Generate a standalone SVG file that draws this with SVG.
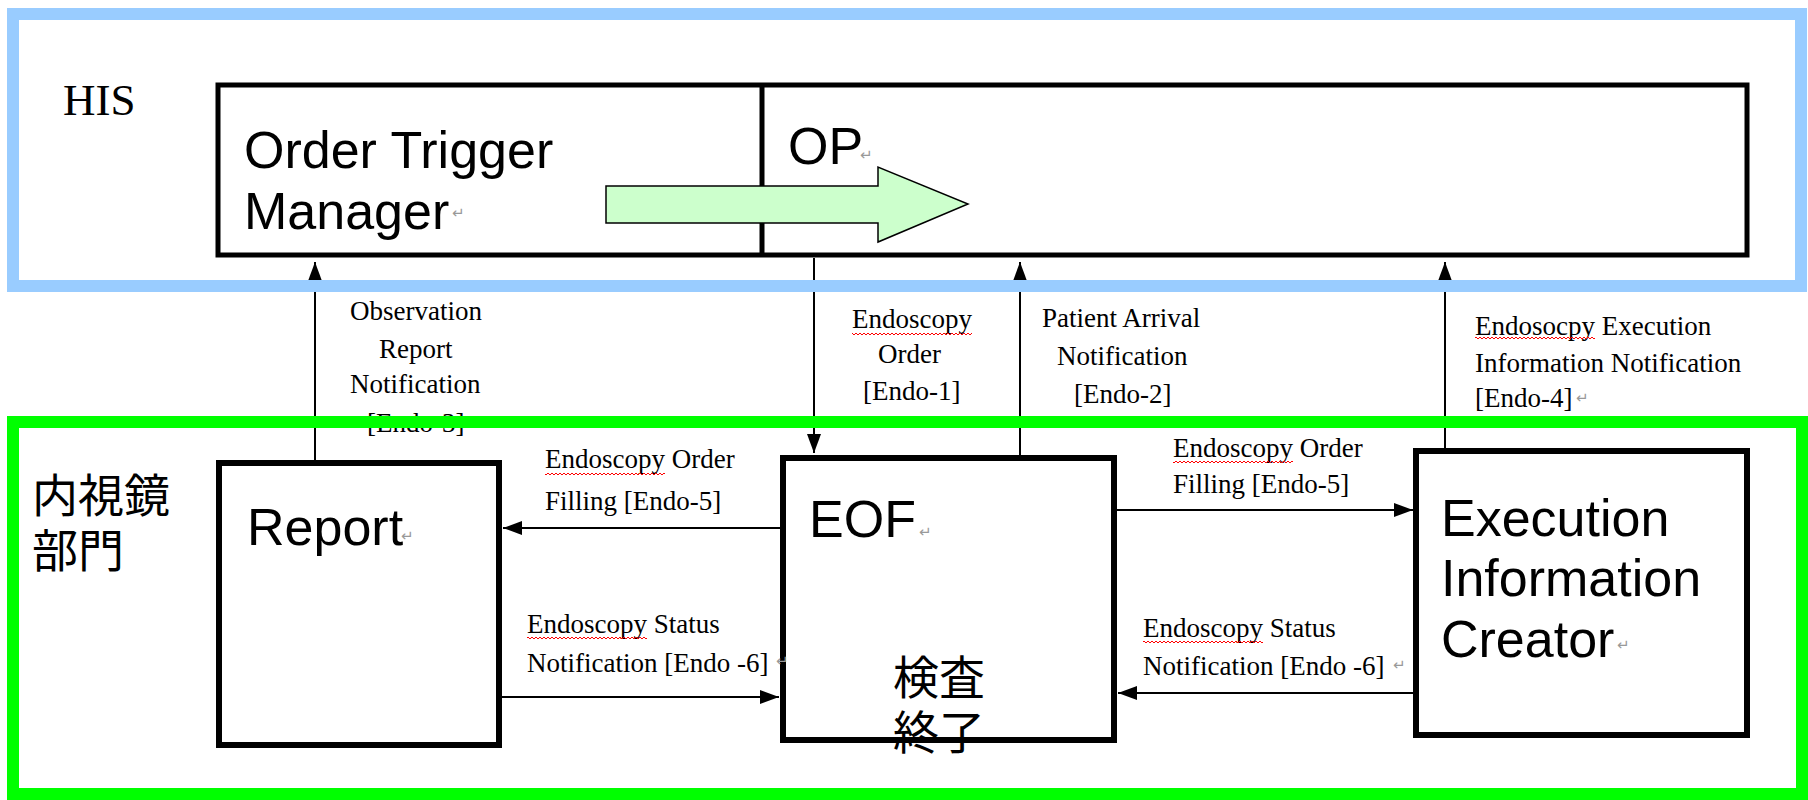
<svg xmlns="http://www.w3.org/2000/svg" width="1808" height="800" viewBox="0 0 1808 800">
<style>
.box{fill:#fff;stroke:#000;stroke-width:6}
.big{font-family:"Liberation Sans",Arial,sans-serif;font-size:52px;fill:#000}
.sm{font-family:"Liberation Serif","Times New Roman",serif;font-size:27px;fill:#000}
.cjk{font-family:"Noto Sans CJK JP","Noto Sans CJK SC",sans-serif;font-size:46px;fill:#000}
.pm{font-family:"DejaVu Sans",sans-serif;font-size:15px;fill:#999}
.con{stroke:#000;stroke-width:2;fill:none}
.frame{fill:none;stroke-width:12}
</style>
<defs>
<marker id="ah" markerUnits="userSpaceOnUse" markerWidth="20" markerHeight="16" refX="19" refY="7" orient="auto">
<path d="M0,0 L19,7 L0,14 z" fill="#000"/>
</marker>
<pattern id="sq" width="4" height="4" patternUnits="userSpaceOnUse">
<path d="M0,1 L2,3 L4,1" stroke="#ff0000" stroke-width="1" fill="none"/>
</pattern>
</defs>

<g id="his-label"><text x="63" y="115" style="font-family:'Liberation Serif',serif;font-size:45px">HIS</text></g>
<g id="dept-label">
<text class="cjk" x="32" y="512">内視鏡<tspan x="32" dy="55">部門</tspan></text>
</g>

<g id="his-box">
<rect class="box" x="218" y="85" width="1529" height="170" style="stroke-width:5"/>
<line x1="762" y1="85" x2="762" y2="255" stroke="#000" stroke-width="5"/>
</g>
<g id="order-trigger-manager">
<text class="big" x="244" y="168">Order Trigger</text>
<text class="big" x="244" y="229">Manager</text>
<text class="pm" x="452" y="218">↵</text>
</g>
<g id="op">
<text class="big" x="788" y="164">OP</text>
<text class="pm" x="860" y="160">↵</text>
</g>
<g id="flow-arrow">
<polygon points="606,186 878,186 878,167 968,204 878,242 878,223 606,223" fill="#ccffcc" stroke="#000" stroke-width="1.5"/>
</g>

<g id="report">
<rect class="box" x="219" y="463" width="280" height="282"/>
<text class="big" x="247" y="545">Report</text>
<text class="pm" x="401" y="541">↵</text>
</g>
<g id="eof">
<rect class="box" x="783" y="458" width="331" height="282"/>
<text class="big" x="809" y="537">EOF</text>
<text class="pm" x="919" y="537">↵</text>
<text class="cjk" x="893" y="694">検査<tspan x="893" dy="55">終了</tspan></text>
</g>
<g id="execution-information-creator">
<rect class="box" x="1416" y="451" width="331" height="284"/>
<text class="big" x="1441" y="536">Execution</text>
<text class="big" x="1441" y="596">Information</text>
<text class="big" x="1441" y="657">Creator</text>
<text class="pm" x="1617" y="650">↵</text>
</g>

<g id="connectors">
<line class="con" x1="315" y1="460" x2="315" y2="262" marker-end="url(#ah)"/>
<line class="con" x1="814" y1="258" x2="814" y2="453" marker-end="url(#ah)"/>
<line class="con" x1="1020" y1="455" x2="1020" y2="262" marker-end="url(#ah)"/>
<line class="con" x1="1445" y1="448" x2="1445" y2="262" marker-end="url(#ah)"/>
<line class="con" x1="780" y1="528" x2="503" y2="528" marker-end="url(#ah)"/>
<line class="con" x1="502" y1="697" x2="779" y2="697" marker-end="url(#ah)"/>
<line class="con" x1="1117" y1="510" x2="1413" y2="510" marker-end="url(#ah)"/>
<line class="con" x1="1413" y1="693" x2="1118" y2="693" marker-end="url(#ah)"/>
</g>

<g id="connector-labels">
<text class="sm" x="350" y="320">Observation</text>
<text class="sm" x="379" y="358">Report</text>
<text class="sm" x="350" y="393">Notification</text>
<text class="sm" x="367" y="432">[Endo-3]</text>

<text class="sm" x="852" y="328">Endoscopy</text>
<rect x="852" y="332" width="120" height="4" fill="url(#sq)"/>
<text class="sm" x="878" y="363">Order</text>
<text class="sm" x="863" y="400">[Endo-1]</text>

<text class="sm" x="1042" y="327">Patient Arrival</text>
<text class="sm" x="1057" y="365">Notification</text>
<text class="sm" x="1074" y="403">[Endo-2]</text>

<text class="sm" x="1475" y="335">Endosocpy Execution</text>
<rect x="1475" y="336" width="120" height="4" fill="url(#sq)"/>
<text class="sm" x="1475" y="372">Information Notification</text>
<text class="sm" x="1475" y="407">[Endo-4]</text>
<text class="pm" x="1576" y="403">↵</text>

<text class="sm" x="545" y="468">Endoscopy Order</text>
<rect x="545" y="472" width="120" height="4" fill="url(#sq)"/>
<text class="sm" x="545" y="510">Filling [Endo-5]</text>

<text class="sm" x="1173" y="457">Endoscopy Order</text>
<rect x="1173" y="460" width="120" height="4" fill="url(#sq)"/>
<text class="sm" x="1173" y="493">Filling [Endo-5]</text>

<text class="sm" x="527" y="633">Endoscopy Status</text>
<rect x="527" y="636" width="120" height="4" fill="url(#sq)"/>
<text class="sm" x="527" y="672">Notification [Endo -6]</text>
<text class="pm" x="776" y="666">↵</text>

<text class="sm" x="1143" y="637">Endoscopy Status</text>
<rect x="1143" y="640" width="120" height="4" fill="url(#sq)"/>
<text class="sm" x="1143" y="675">Notification [Endo -6]</text>
<text class="pm" x="1393" y="670">↵</text>
</g>

<g id="frames">
<rect class="frame" x="13" y="14" width="1788" height="272" stroke="#99ccff"/>
<rect class="frame" x="13" y="422" width="1789" height="372" stroke="#00ff00"/>
</g>
</svg>
